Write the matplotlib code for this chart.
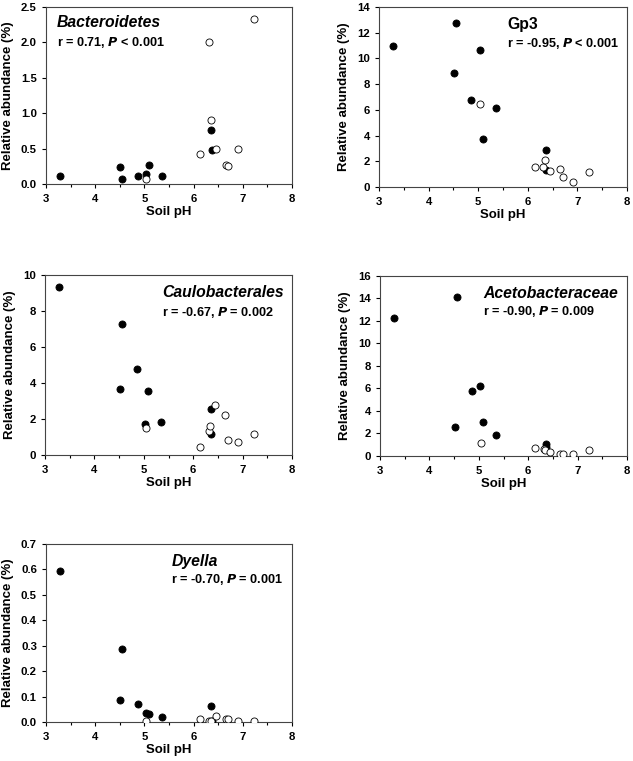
import matplotlib
matplotlib.use("Agg")
import matplotlib.pyplot as plt
from matplotlib.ticker import MultipleLocator, FormatStrFormatter

plt.rcParams['font.family'] = ['Liberation Sans', 'DejaVu Sans']
plt.rcParams['font.weight'] = 'bold'

# Soil pH of samples (filled = acidic group, open = other group)
ph_filled = [3.28, 4.51, 4.55, 4.86, 5.03, 5.09, 5.35, 6.36, 6.37]
ph_open = [5.04, 6.14, 6.31, 6.35, 6.45, 6.65, 6.70, 6.91, 7.23]

# Relative abundances (%)
bact_filled = [0.12, 0.24, 0.07, 0.11, 0.14, 0.27, 0.11, 0.76, 0.48]
bact_open = [0.07, 0.43, 2.01, 0.91, 0.50, 0.27, 0.26, 0.49, 2.33]

gp3_filled = [11.0, 8.9, 12.75, 6.8, 10.65, 3.75, 6.15, 2.85, 1.35]
gp3_open = [6.45, 1.55, 1.55, 2.1, 1.25, 1.4, 0.75, 0.4, 1.15]

caulo_filled = [9.35, 3.65, 7.3, 4.8, 1.7, 3.55, 1.85, 2.55, 1.15]
caulo_open = [1.5, 0.45, 1.35, 1.6, 2.8, 2.2, 0.85, 0.7, 1.15]

aceto_filled = [12.3, 2.6, 14.1, 5.8, 6.2, 3.0, 1.85, 1.1, 0.8]
aceto_open = [1.15, 0.7, 0.6, 0.55, 0.35, 0.2, 0.2, 0.15, 0.55]

dyella_filled = [0.595, 0.085, 0.287, 0.072, 0.037, 0.031, 0.018, 0.061, 0.005]
dyella_open = [0.003, 0.013, 0.003, 0.004, 0.022, 0.011, 0.013, 0.003, 0.003]

names = ["Bacteroidetes", "Gp3", "Caulobacterales", "Acetobacteraceae", "Dyella"]
italic_name = [True, False, True, True, True]
r_values = ["0.71", "-0.95", "-0.67", "-0.90", "-0.70"]
p_texts = ["< 0.001", "< 0.001", "= 0.002", "= 0.009", "= 0.001"]
y_max = [2.5, 14, 10, 16, 0.7]
y_step = [0.5, 2, 2, 2, 0.1]
y_fmt = ["%.1f", "%d", "%d", "%d", "%.1f"]
filled_data = [bact_filled, gp3_filled, caulo_filled, aceto_filled, dyella_filled]
open_data = [bact_open, gp3_open, caulo_open, aceto_open, dyella_open]

W, H = 633, 761
# axes rectangles in pixels: left, top, right, bottom
rects = [(46, 7, 292, 184), (379, 7, 627, 187), (45, 275, 292, 455),
         (380, 276, 627, 456), (46, 544, 292, 722)]
# text anchor positions in axes fraction: x, y_name, y_r
text_pos = [(0.045, 0.91, 0.80), (0.516, 0.905, 0.795), (0.474, 0.90, 0.794),
            (0.417, 0.905, 0.80), (0.51, 0.90, 0.80)]

fig = plt.figure(figsize=(W / 100, H / 100), dpi=100)

for i in range(5):
    l, t, r, b = rects[i]
    ax = fig.add_axes([l / W, 1 - b / H, (r - l) / W, (b - t) / H])
    ax.scatter(ph_filled, filled_data[i], s=26, facecolor='black', edgecolor='black',
               linewidths=0.6, zorder=3)
    ax.scatter(ph_open, open_data[i], s=26, facecolor='white', edgecolor='black',
               linewidths=0.6, zorder=3)
    ax.set_xlim(3, 8)
    ax.set_ylim(0, y_max[i])
    ax.xaxis.set_major_locator(MultipleLocator(1))
    ax.xaxis.set_minor_locator(MultipleLocator(0.5))
    ax.yaxis.set_major_locator(MultipleLocator(y_step[i]))
    ax.yaxis.set_major_formatter(FormatStrFormatter(y_fmt[i]))
    ax.tick_params(axis='both', which='major', direction='out', length=3, width=0.8,
                   labelsize=8.2)
    ax.tick_params(axis='x', which='major', pad=4.5)
    ax.tick_params(axis='y', which='major', pad=3.5)
    ax.tick_params(axis='x', which='minor', direction='out', length=2, width=0.8)
    for lab in ax.get_xticklabels() + ax.get_yticklabels():
        lab.set_fontweight('bold')
    for sp in ax.spines.values():
        sp.set_color('#444444')
        sp.set_linewidth(0.8)
    ax.set_xlabel("Soil pH", fontsize=9.5, fontweight='bold', labelpad=1)
    ax.set_ylabel("Relative abundance (%)", fontsize=9.5, fontweight='bold', labelpad=5)
    tx, tyn, tyr = text_pos[i]
    ax.text(tx, tyn, names[i], transform=ax.transAxes, fontsize=11.3, fontweight='bold',
            fontstyle='italic' if italic_name[i] else 'normal', va='center', ha='left')
    ax.text(tx, tyr, r"r = %s, $\mathbfit{P}$ %s" % (r_values[i], p_texts[i]),
            transform=ax.transAxes, fontsize=9.1, fontweight='bold', va='center', ha='left')

fig.savefig("out.png", dpi=100)
